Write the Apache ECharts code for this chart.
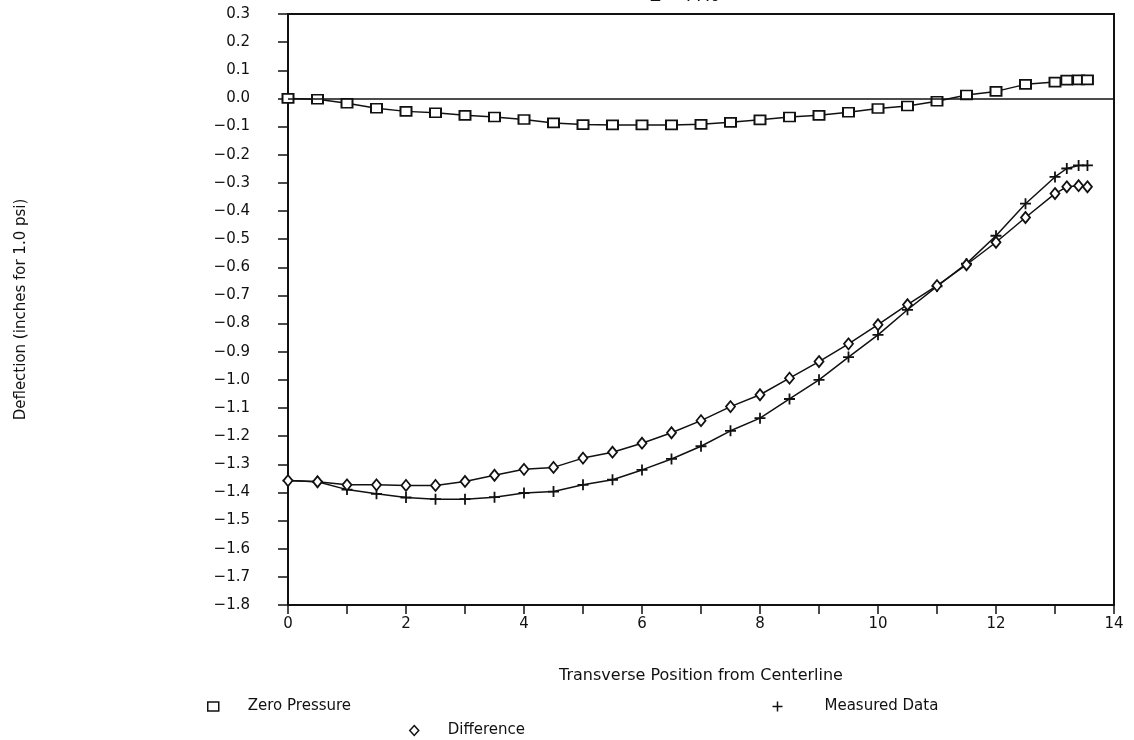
<!DOCTYPE html>
<html>
<head>
    <meta charset="utf-8">
    <title>Deflection</title>
    <script src="https://cdn.jsdelivr.net/npm/echarts@6/dist/echarts.min.js"></script>
    <style>
        html, body { margin: 0; padding: 0; background: #fff; }
        #chart { width: 1134px; height: 740px; }
    </style>
</head>
<body>
    <div id="chart"></div>
    <script>
        // transverse positions
        const positions = [0, 0.5, 1, 1.5, 2, 2.5, 3, 3.5, 4, 4.5, 5, 5.5, 6, 6.5, 7, 7.5,
            8, 8.5, 9, 9.5, 10, 10.5, 11, 11.5, 12, 12.5, 13, 13.2, 13.4, 13.55];
        const zeroPressure = [0, -0.003, -0.017, -0.035, -0.046, -0.051, -0.06, -0.066, -0.075, -0.087,
            -0.093, -0.094, -0.094, -0.094, -0.092, -0.085, -0.076, -0.066, -0.06, -0.049,
            -0.036, -0.027, -0.01, 0.012, 0.025, 0.05, 0.058, 0.065, 0.066, 0.066];
        const measuredData = [-1.358, -1.362, -1.39, -1.405, -1.418, -1.424, -1.424, -1.417, -1.402, -1.397,
            -1.373, -1.355, -1.32, -1.281, -1.236, -1.181, -1.136, -1.068, -1.0, -0.919,
            -0.84, -0.751, -0.668, -0.587, -0.488, -0.374, -0.279, -0.249, -0.238, -0.238];
        const difference = [-1.358, -1.362, -1.373, -1.373, -1.375, -1.375, -1.361, -1.339, -1.318, -1.311,
            -1.278, -1.257, -1.225, -1.188, -1.145, -1.095, -1.053, -0.994, -0.935, -0.872,
            -0.804, -0.733, -0.665, -0.591, -0.511, -0.423, -0.338, -0.314, -0.31, -0.314];

        const font = 'DejaVu Sans';
        const black = '#111';
        const plus = 'path://M5,0L5,10M0,5L10,5';

        function pairs(values) {
            return positions.map((x, i) => [x, values[i]]);
        }

        const chart = echarts.init(document.getElementById('chart'));
        const option = {
            animation: false,
            backgroundColor: '#fff',
            title: {
                text: 'Z = 77.0',
                left: 645,
                top: -16,
                textStyle: { fontFamily: font, fontSize: 16, fontWeight: 'normal', color: black }
            },
            grid: {
                left: 288, right: 20, top: 14, bottom: 135,
                show: true, borderColor: black, borderWidth: 2
            },
            legend: [
                {
                    data: ['Zero Pressure'], left: 202, top: 694, icon: 'rect',
                    itemWidth: 11, itemHeight: 9,
                    itemStyle: { color: '#fff', borderColor: black, borderWidth: 1.5 },
                    textStyle: { fontFamily: font, fontSize: 15, color: black, padding: [0, 0, 0, 24] }
                },
                {
                    data: ['Measured Data'], left: 765, top: 694, icon: plus,
                    itemWidth: 10, itemHeight: 10,
                    itemStyle: { color: 'none', borderColor: black, borderWidth: 1.5 },
                    textStyle: { fontFamily: font, fontSize: 15, color: black, padding: [0, 0, 0, 37] }
                },
                {
                    data: ['Difference'], left: 404, top: 718, icon: 'diamond',
                    itemWidth: 9, itemHeight: 10,
                    itemStyle: { color: '#fff', borderColor: black, borderWidth: 1.5 },
                    textStyle: { fontFamily: font, fontSize: 15, color: black, padding: [0, 0, 0, 24] }
                }
            ],
            xAxis: {
                type: 'value',
                min: 0, max: 14, interval: 2,
                name: 'Transverse Position from Centerline',
                nameLocation: 'middle', nameGap: 63,
                nameTextStyle: { fontFamily: font, fontSize: 16, color: black },
                axisLine: { onZero: false, lineStyle: { color: black, width: 2 } },
                axisTick: { inside: false, length: 9, lineStyle: { color: black, width: 1.5 } },
                minorTick: { show: true, splitNumber: 2, length: 9, lineStyle: { color: black, width: 1.5 } },
                axisLabel: { fontFamily: font, fontSize: 15, color: black, margin: 12 },
                splitLine: { show: false }
            },
            yAxis: {
                type: 'value',
                min: -1.8, max: 0.3, interval: 0.1,
                name: 'Deflection (inches for 1.0 psi)',
                nameLocation: 'middle', nameGap: 259,
                nameTextStyle: { fontFamily: font, fontSize: 15, color: black },
                axisLine: { onZero: false, lineStyle: { color: black, width: 2 } },
                axisTick: { inside: false, length: 10, lineStyle: { color: black, width: 1.5 } },
                axisLabel: {
                    fontFamily: font, fontSize: 15, color: black, margin: 38,
                    formatter: v => v.toFixed(1).replace('-', '\u2212')
                },
                splitLine: { show: false }
            },
            series: [
                {
                    name: 'Zero Pressure',
                    type: 'line',
                    data: pairs(zeroPressure),
                    symbol: 'rect', symbolSize: [11, 9],
                    lineStyle: { color: black, width: 1.5 },
                    itemStyle: { color: '#fff', borderColor: black, borderWidth: 1.8 },
                    markLine: {
                        silent: true, symbol: 'none', label: { show: false },
                        lineStyle: { color: black, width: 1.5, type: 'solid' },
                        data: [{ yAxis: 0 }]
                    },
                    z: 3
                },
                {
                    name: 'Measured Data',
                    type: 'line',
                    data: pairs(measuredData),
                    symbol: plus, symbolSize: 11,
                    lineStyle: { color: black, width: 1.5 },
                    itemStyle: { color: 'none', borderColor: black, borderWidth: 1.8 }
                },
                {
                    name: 'Difference',
                    type: 'line',
                    data: pairs(difference),
                    symbol: 'diamond', symbolSize: [9, 11],
                    lineStyle: { color: black, width: 1.5 },
                    itemStyle: { color: '#fff', borderColor: black, borderWidth: 1.8 }
                }
            ]
        };
        chart.setOption(option);
    </script>
</body>
</html>
